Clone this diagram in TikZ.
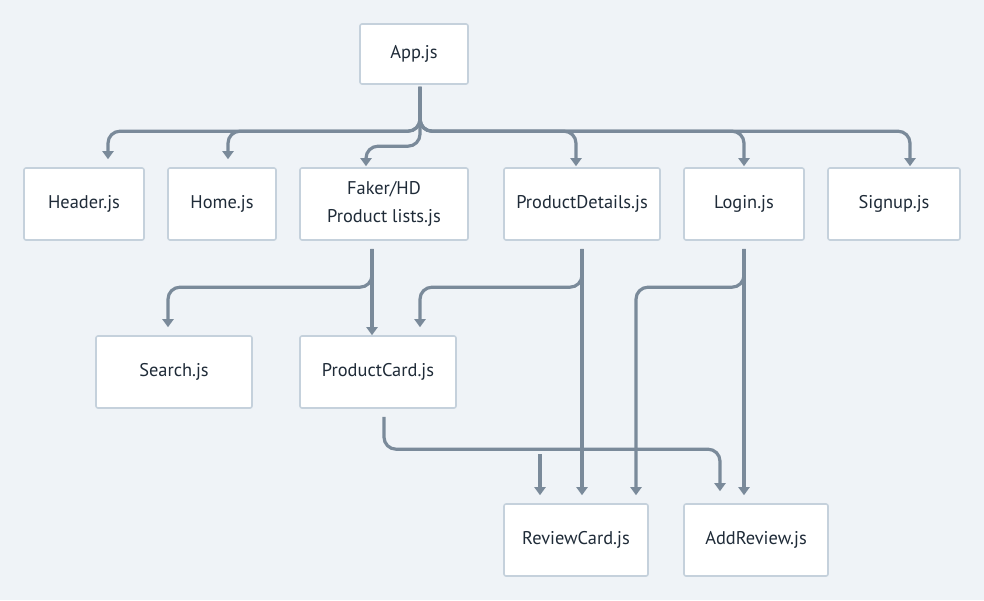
\documentclass[tikz,border=0pt]{standalone}
\usepackage{fontspec}
\setmainfont{PT Sans}
\usetikzlibrary{arrows.meta,calc}
\definecolor{bg}{HTML}{EFF3F7}
\definecolor{bord}{HTML}{C5D1DC}
\definecolor{linec}{HTML}{7A8A9A}
\definecolor{txt}{HTML}{1F2B38}
\begin{document}
\begin{tikzpicture}[x=1pt,y=-1pt,
  box/.style={draw=bord,line width=1.6pt,fill=white,rounded corners=2pt,
    minimum height=72pt,inner sep=0pt,text=txt,align=center,
    font=\fontsize{18.4}{28}\selectfont},
  conn/.style={draw=linec,line width=3.2pt,rounded corners=12pt,
    -{Triangle[width=11pt,length=8pt]}}]
\fill[bg] (0,0) rectangle (984,600);
\useasboundingbox (0,0) rectangle (984,600);
% nodes
\node[box,minimum width=108pt,minimum height=60pt] (app) at (414,54) {App.js};
\node[box,minimum width=120pt] (header) at (84,204) {Header.js};
\node[box,minimum width=108pt] (home) at (222,204) {Home.js};
\node[box,minimum width=168pt] (faker) at (384,204) {Faker/HD\\Product lists.js};
\node[box,minimum width=156pt] (pd) at (582,204) {ProductDetails.js};
\node[box,minimum width=120pt] (login) at (744,204) {Login.js};
\node[box,minimum width=132pt] (signup) at (894,204) {Signup.js};
\node[box,minimum width=156pt] (search) at (174,372) {Search.js};
\node[box,minimum width=156pt] (pc) at (378,372) {ProductCard.js};
\node[box,minimum width=144pt] (rc) at (576,540) {ReviewCard.js};
\node[box,minimum width=144pt] (ar) at (756,540) {AddReview.js};
% connectors from App.js
\draw[conn] ($(app.south)+(6,2)$) |- ($(header.north)+(24,-36)$) -- ($(header.north)+(24,-8)$);
\draw[conn] ($(app.south)+(6,2)$) |- ($(home.north)+(6,-36)$) -- ($(home.north)+(6,-8)$);
\draw[conn] ($(app.south)+(6,2)$) |- ($(faker.north)+(-18,-21)$) -- ($(faker.north)+(-18,-1)$);
\draw[conn] ($(app.south)+(6,2)$) |- ($(pd.north)+(-6,-36)$) -- ($(pd.north)+(-6,-1)$);
\draw[conn] ($(app.south)+(6,2)$) |- ($(login.north)+(0,-36)$) -- ($(login.north)+(0,-1)$);
\draw[conn] ($(app.south)+(6,2)$) |- ($(signup.north)+(16,-36)$) -- ($(signup.north)+(16,-1)$);
% from Faker/HD
\draw[conn] ($(faker.south)+(-12,8)$) -- ($(pc.north)+(-6,0)$);
\draw[conn] ($(faker.south)+(-12,8)$) |- ($(search.north)+(-6,-48)$) -- ($(search.north)+(-6,-8)$);
% from ProductDetails
\draw[conn] ($(pd.south)+(0,8)$) -- ($(rc.north)+(6,-8)$);
\draw[conn] ($(pd.south)+(0,8)$) |- ($(pc.north)+(42,-48)$) -- ($(pc.north)+(42,-8)$);
% from Login
\draw[conn] ($(login.south)+(0,8)$) -- ($(ar.north)+(-12,-8)$);
\draw[conn] ($(login.south)+(0,8)$) |- ($(rc.north)+(60,-216)$) -- ($(rc.north)+(60,-8)$);
% from ProductCard
\draw[conn] ($(pc.south)+(6,8)$) |- ($(ar.north)+(-36,-54)$) -- ($(ar.north)+(-36,-12)$);
\coordinate (rcin) at ($(rc.north)+(-36,-49)$);
\draw[conn] (rcin) -- ($(rc.north)+(-36,-8)$);
\end{tikzpicture}
\end{document}
